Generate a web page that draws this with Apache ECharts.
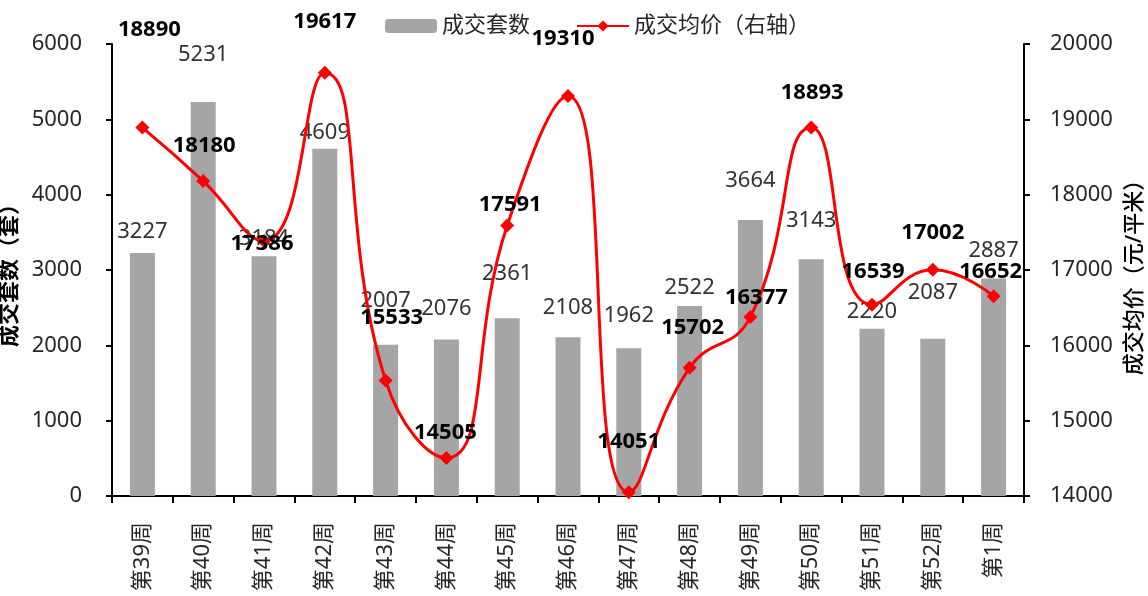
<!DOCTYPE html>
<html>
<head>
<meta charset="utf-8">
<script src="https://cdn.jsdelivr.net/npm/echarts@6/dist/echarts.min.js"></script>
<style>
html,body{margin:0;padding:0;background:#fff;}
#container{width:1148px;height:596px;}
</style>
</head>
<body>
<div id="container"></div>
<script>
var weeks = ['第39周','第40周','第41周','第42周','第43周','第44周','第45周','第46周','第47周','第48周','第49周','第50周','第51周','第52周','第1周'];
var deals = [3227, 5231, 3184, 4609, 2007, 2076, 2361, 2108, 1962, 2522, 3664, 3143, 2220, 2087, 2887];
var prices = [18890, 18180, 17386, 19617, 15533, 14505, 17591, 19310, 14051, 15702, 16377, 18893, 16539, 17002, 16652];
var leftTicks = [0, 6000, 1000];
var rightTicks = [14000, 20000, 1000];

// label nudges (pixels)
var dealLabelShift = [-10, -36, -6, -5, -33, -20, -33, -18, -21, -7, -28, -27, -6, -35, -17];
var priceLabelShift = [[7,-98],[1,-35],[-2,3],[0,-51],[6,-63],[-1,-25],[3,-21],[-5,-57],[0,-50],[3,-40],[6,-19],[1,-35],[1,-33],[0,-37],[-3,-24]];

var font = '"Noto Sans", "Noto Sans CJK SC", sans-serif';

var dom = document.getElementById('container');
var myChart = echarts.init(dom);

var barData = deals.map(function(v, i){
	return {value: v, label: {offset: [0, dealLabelShift[i]]}};
});
var lineData = prices.map(function(v, i){
	return {value: v, label: {offset: priceLabelShift[i]}};
});

function plain(v){ return String(v); }

var option = {
	backgroundColor: '#fff',
	textStyle: {fontFamily: font},
	animation: false,
	legend: {
		left: 380,
		top: 10,
		itemWidth: 52,
		itemHeight: 14,
		itemGap: 46,
		data: ['成交套数', '成交均价（右轴）'],
		textStyle: {fontSize: 22, color: '#262626', fontFamily: font}
	},
	grid: {left: 112, right: 124, top: 44, bottom: 100, containLabel: false, outerBoundsMode: 'none'},
	xAxis: {
		type: 'category',
		data: weeks,
		axisLine: {lineStyle: {color: '#000', width: 2}},
		axisTick: {show: true, length: 7, lineStyle: {color: '#000', width: 2}},
		axisLabel: {rotate: 90, fontSize: 22, color: '#262626', margin: 26, fontFamily: font}
	},
	yAxis: [{
		type: 'value',
		min: leftTicks[0], max: leftTicks[1], interval: leftTicks[2],
		name: '成交套数（套）',
		nameLocation: 'middle',
		nameGap: 76,
		nameTextStyle: {fontSize: 22, fontWeight: 'bold', color: '#000', fontFamily: font},
		axisLine: {show: true, lineStyle: {color: '#000', width: 2}},
		axisTick: {show: true, length: 6, lineStyle: {color: '#000', width: 2}},
		axisLabel: {fontSize: 22, color: '#262626', margin: 30, fontFamily: font, formatter: plain},
		splitLine: {show: false}
	}, {
		type: 'value',
		position: 'right',
		min: rightTicks[0], max: rightTicks[1], interval: rightTicks[2],
		name: '成交均价（元/平米）',
		nameLocation: 'middle',
		nameGap: 92,
		nameTextStyle: {fontSize: 22, fontWeight: 500, color: '#000', fontFamily: font, padding: [0, 4, 0, 0]},
		axisLine: {show: true, lineStyle: {color: '#000', width: 2}},
		axisTick: {show: true, length: 6, lineStyle: {color: '#000', width: 2}},
		axisLabel: {fontSize: 22, color: '#262626', margin: 26, fontFamily: font, formatter: plain},
		splitLine: {show: false}
	}],
	series: [{
		name: '成交套数',
		type: 'bar',
		yAxisIndex: 0,
		barWidth: 25,
		itemStyle: {color: '#A5A5A5'},
		label: {show: true, position: 'top', distance: 0, fontSize: 22, color: '#333', fontFamily: font},
		data: barData
	}, {
		name: '成交均价（右轴）',
		type: 'line',
		yAxisIndex: 1,
		smooth: 0.5,
		symbol: 'diamond',
		symbolSize: 14,
		itemStyle: {color: '#FF0000'},
		lineStyle: {color: '#FF0000', width: 3},
		label: {show: true, position: 'inside', fontSize: 22, fontWeight: 'bold', color: '#000', fontFamily: font},
		data: lineData
	}]
};

myChart.setOption(option, true);
</script>
</body>
</html>
